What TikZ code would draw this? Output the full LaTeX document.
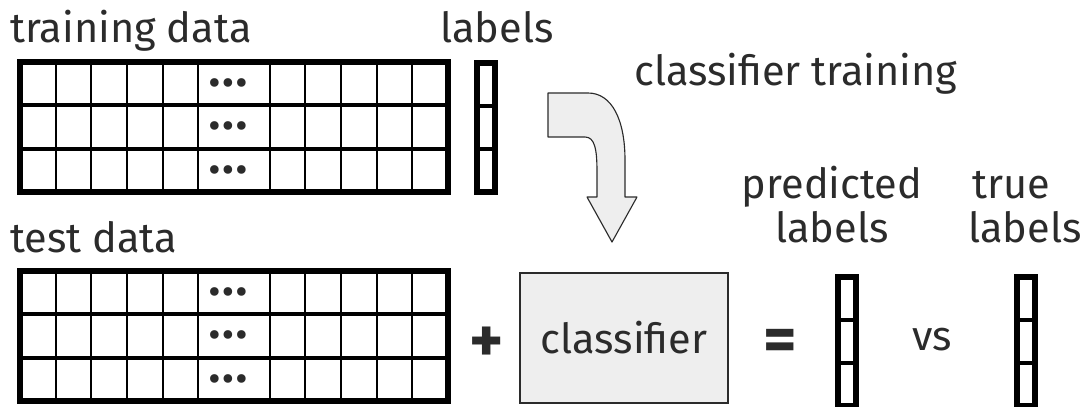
\documentclass[tikz,border=0pt]{standalone}
\usepackage{fontspec}
\setmainfont{Fira Sans}
\usetikzlibrary{positioning}

\definecolor{txtgray}{HTML}{2B2B2B}
\definecolor{boxgray}{HTML}{EEEEEE}

\begin{document}
\begin{tikzpicture}[x=0.025cm,y=-0.025cm,
  lbl/.style={text=txtgray,font=\fontsize{29.5}{33}\selectfont,inner sep=0pt},
  sym/.style={lbl,font=\fontsize{46}{50}\selectfont\bfseries},
  dotrow/.style={text=txtgray,font=\fontsize{22}{24}\selectfont\bfseries,inner sep=0pt},
  outerline/.style={line width=3.6pt},
  rowline/.style={line width=2.8pt},
  colline/.style={line width=1.4pt},
  clsbox/.style={lbl,draw=txtgray,line width=0.8pt,fill=boxgray,
    minimum width=5.2cm,minimum height=3.25cm},
  bendarrow/.style={draw=txtgray,line width=0.8pt,fill=boxgray,line join=round}]
\useasboundingbox (0,0) rectangle (1081,407);

% data tables
\foreach \gy in {62,271} {
  \foreach \k in {1,2,3,4,5,7,8,9,10,11}
    \draw[colline] (20+\k*35.67,\gy) -- (20+\k*35.67,\gy+130);
  \draw[rowline] (20,\gy+43.33) -- (448,\gy+43.33);
  \draw[rowline] (20,\gy+86.67) -- (448,\gy+86.67);
  \draw[outerline] (20,\gy) rectangle (448,\gy+130);
  \foreach \r in {0,1,2}
    \node[dotrow] at (228,\gy+24+\r*43.33)
      {\textbullet\hspace{2pt}\textbullet\hspace{2pt}\textbullet};
}

% label vectors
\foreach \vx/\vy in {477/63,838/277,1017/277} {
  \draw[rowline] (\vx,\vy+43) -- (\vx+18,\vy+43);
  \draw[rowline] (\vx,\vy+86) -- (\vx+18,\vy+86);
  \draw[outerline] (\vx,\vy) rectangle (\vx+18,\vy+129);
}

% titles
\node[lbl,anchor=base west] (traintitle) at (10,43) {training data};
\node[lbl,anchor=base west] (labelstitle) at (440,43) {labels};
\node[lbl,anchor=base west] (clftrain) at (634,86) {classifier training};
\node[lbl,anchor=base west] (testtitle) at (10,252) {test data};
\node[lbl,anchor=base] (predtop) at (832,198) {predicted};
\node[lbl,anchor=base] (predbot) at (832,242) {labels};
\node[lbl,anchor=base] (truetop) at (1011,198) {true};
\node[lbl,anchor=base] (truebot) at (1025,242) {labels};

% training arrow
\draw[bendarrow] (548,93) -- (588,93) .. controls (612,93) and (625,120) .. (625,160)
  -- (625,197) -- (637,197) -- (612,242) -- (587,197) -- (597,197) -- (597,172)
  .. controls (597,150) and (595,137) .. (585,137) -- (548,137) -- cycle;

% test row
\node[sym] (plus) at (487,345) {+};
\node[clsbox] (clf) at (624,338) {classifier};
\node[sym] (equal) at (780,345) {=};
\node[lbl] (vs) at (932,340) {vs};
\end{tikzpicture}
\end{document}
